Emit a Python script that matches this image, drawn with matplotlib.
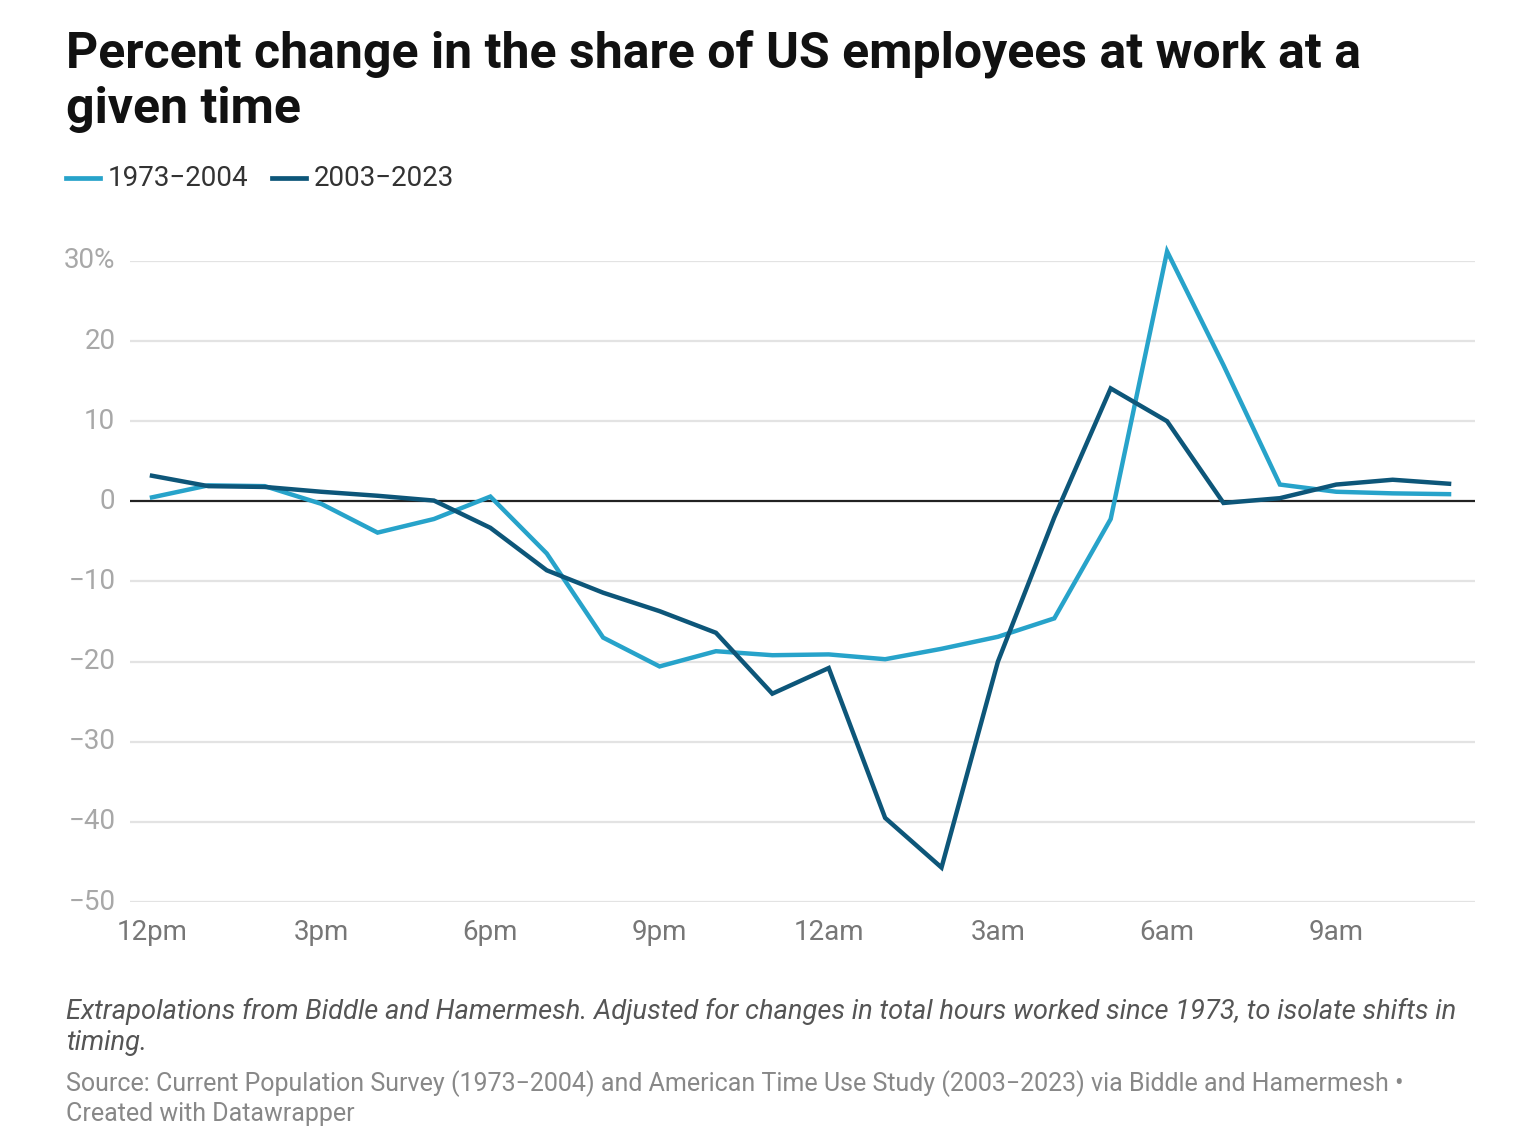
import matplotlib
matplotlib.use("Agg")
import matplotlib.pyplot as plt
from matplotlib.lines import Line2D

plt.rcParams['font.family'] = ['Roboto', 'DejaVu Sans']

hours = list(range(24))
tick_positions = [0, 3, 6, 9, 12, 15, 18, 21]
tick_labels = ["12pm", "3pm", "6pm", "9pm", "12am", "3am", "6am", "9am"]

series_1973_2004 = [0.5, 2.0, 1.9, -0.3, -3.9, -2.2, 0.6, -6.5, -17.0, -20.6, -18.7, -19.2,
                    -19.1, -19.7, -18.4, -16.9, -14.6, -2.2, 31.2, 17.0, 2.1, 1.2, 1.0, 0.9]
series_2003_2023 = [3.2, 1.9, 1.8, 1.2, 0.7, 0.1, -3.3, -8.6, -11.4, -13.7, -16.4, -24.0,
                    -20.8, -39.5, -45.7, -20.0, -2.0, 14.1, 10.0, -0.2, 0.4, 2.1, 2.7, 2.2]

yticks = [30, 20, 10, 0, -10, -20, -30, -40, -50]
ytick_labels = ["30%", "20", "10", "0", "\u221210", "\u221220", "\u221230", "\u221240", "\u221250"]

c_light = "#27a3ca"
c_dark = "#0d5679"

W, H = 1539, 1145
fig = plt.figure(figsize=(W / 100, H / 100), dpi=100)
fig.patch.set_facecolor("white")

ax = fig.add_axes([130 / W, 1 - 902 / H, (1475 - 130) / W, (902 - 261) / H])
ax.set_xlim(-0.39, 23.46)
ax.set_ylim(-50, 30)

for y in yticks:
    if y == 0:
        continue
    ax.axhline(y, color="#e3e3e3", lw=1.6, zorder=1)
ax.axhline(0, color="#222222", lw=1.6, zorder=2)

ax.plot(hours, series_1973_2004, color=c_light, lw=3.2, zorder=3, clip_on=False,
        solid_joinstyle="miter")
ax.plot(hours, series_2003_2023, color=c_dark, lw=3.2, zorder=4, clip_on=False,
        solid_joinstyle="miter")

for s in ax.spines.values():
    s.set_visible(False)
ax.set_yticks(yticks)
ax.set_yticklabels(ytick_labels)
ax.set_xticks(tick_positions)
ax.set_xticklabels(tick_labels)
ax.tick_params(axis="y", length=0, pad=10.5, labelsize=20, labelcolor="#a8a8a8")
ax.tick_params(axis="x", length=0, pad=12, labelsize=20, labelcolor="#777777")
for lab in ax.get_yticklabels():
    lab.set_verticalalignment("center")

def fy(py):
    return 1 - py / H

def fx(px):
    return px / W

fig.text(fx(66), fy(68), "Percent change in the share of US employees at work at a",
         fontsize=36, fontweight="bold", color="#111111", va="baseline", ha="left")
fig.text(fx(66), fy(123), "given time",
         fontsize=36, fontweight="bold", color="#111111", va="baseline", ha="left")

# legend
fig.add_artist(Line2D([fx(66), fx(100)], [fy(178), fy(178)], color=c_light, lw=3.4,
                      transform=fig.transFigure))
fig.text(fx(108), fy(178), "1973\u22122004", fontsize=20, color="#333333", va="center", ha="left")
fig.add_artist(Line2D([fx(272), fx(306)], [fy(178), fy(178)], color=c_dark, lw=3.4,
                      transform=fig.transFigure))
fig.text(fx(314), fy(178), "2003\u22122023", fontsize=20, color="#333333", va="center", ha="left")

fig.text(fx(66), fy(1019),
         "Extrapolations from Biddle and Hamermesh. Adjusted for changes in total hours worked since 1973, to isolate shifts in",
         fontsize=19.6, style="italic", color="#555555", va="baseline", ha="left")
fig.text(fx(66), fy(1050), "timing.",
         fontsize=19.6, style="italic", color="#555555", va="baseline", ha="left")
fig.text(fx(66), fy(1091),
         "Source: Current Population Survey (1973\u22122004) and American Time Use Study (2003\u22122023) via Biddle and Hamermesh \u2022",
         fontsize=18, color="#888888", va="baseline", ha="left")
fig.text(fx(66), fy(1121), "Created with Datawrapper",
         fontsize=18, color="#888888", va="baseline", ha="left")

fig.savefig("out.png", dpi=100, facecolor="white")
